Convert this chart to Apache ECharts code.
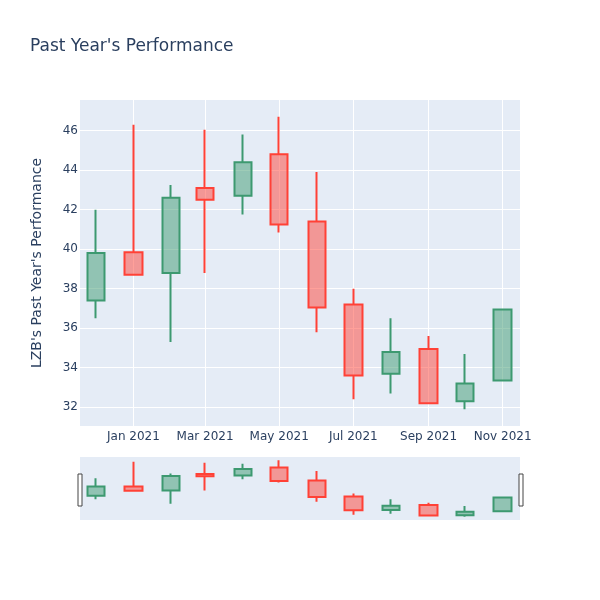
<!DOCTYPE html>
<html>
<head>
<meta charset="utf-8">
<script src="https://cdn.jsdelivr.net/npm/echarts@6/dist/echarts.min.js"></script>
<style>html,body{margin:0;padding:0;background:#fff}#c{width:600px;height:600px}</style>
</head>
<body>
<div id="c"></div>
<script>
// ---- data ----
var months = ['2020-12-01','2021-01-01','2021-02-01','2021-03-01','2021-04-01','2021-05-01','2021-06-01','2021-07-01','2021-08-01','2021-09-01','2021-10-01','2021-11-01'];
var openVals  = [37.4, 39.85, 38.8, 43.1, 42.7, 44.8, 41.4, 37.2, 33.7, 34.95, 32.3, 33.35];
var closeVals = [39.8, 38.7, 42.6, 42.5, 44.4, 41.25, 37.05, 33.6, 34.8, 32.2, 33.2, 36.95];
var lowVals   = [36.5, 38.7, 35.3, 38.8, 41.75, 40.85, 35.8, 32.4, 32.7, 32.2, 31.9, 33.35];
var highVals  = [42.0, 46.3, 43.25, 46.05, 45.8, 46.7, 43.9, 38.0, 36.5, 35.6, 34.7, 37.0];
var xTickDates  = ['2021-01-01','2021-03-01','2021-05-01','2021-07-01','2021-09-01','2021-11-01'];
var xTickLabels = ['Jan 2021','Mar 2021','May 2021','Jul 2021','Sep 2021','Nov 2021'];
var xRange = ['2020-11-18T00:00:00Z','2021-11-15T06:00:00Z'];
var yRange = [31.05, 47.55];

function t(s){ return new Date(s.length === 10 ? s + 'T00:00:00Z' : s).getTime(); }
var candleData = months.map(function(m,i){ return [t(m), openVals[i], closeVals[i], lowVals[i], highVals[i]]; });
var tickLines = xTickDates.map(function(d,i){ return {xAxis: t(d), name: xTickLabels[i]}; });

var font = 'DejaVu Sans';
var txt = '#2a3f5f';
var upLine = '#3D9970', upFill = 'rgba(61,153,112,0.5)';
var dnLine = '#FF4136', dnFill = 'rgba(255,65,54,0.5)';

var chart = echarts.init(document.getElementById('c'), null, {renderer:'canvas'});
var candleStyle = {color: upFill, color0: dnFill, borderColor: upLine, borderColor0: dnLine, borderWidth: 2};

chart.setOption({
  animation: false,
  useUTC: true,
  backgroundColor: '#fff',
  textStyle: {fontFamily: font},
  title: {text: "Past Year's Performance", left: 30, top: 38, padding: 0, textStyle: {fontFamily: font, fontSize: 17, fontWeight: 'normal', color: txt}},
  grid: [
    {left: 80, top: 100, width: 440, height: 326, show: true, backgroundColor: '#e5ecf6', borderWidth: 0, containLabel: false},
    {left: 80, top: 457, width: 440, height: 63, show: true, backgroundColor: '#e5ecf6', borderWidth: 0, containLabel: false}
  ],
  xAxis: [
    {type: 'time', gridIndex: 0, min: t(xRange[0]), max: t(xRange[1]),
     axisLine: {show: false}, axisTick: {show: false}, axisLabel: {show: false}, splitLine: {show: false}},
    {type: 'time', gridIndex: 1, min: t(xRange[0]), max: t(xRange[1]), show: false, splitLine: {show: false}}
  ],
  yAxis: [
    {type: 'value', gridIndex: 0, min: yRange[0], max: yRange[1], minInterval: 2, maxInterval: 2, splitNumber: 8,
     name: "LZB's Past Year's Performance", nameLocation: 'middle', nameGap: 36,
     nameTextStyle: {color: txt, fontSize: 14, fontFamily: font},
     axisLine: {show: false}, axisTick: {show: false},
     axisLabel: {color: txt, fontSize: 12, fontFamily: font, margin: 2, showMinLabel: false, showMaxLabel: false},
     splitLine: {show: true, showMinLine: false, showMaxLine: false, lineStyle: {color: '#fff', width: 1}}},
    {type: 'value', gridIndex: 1, min: yRange[0], max: yRange[1], show: false, splitLine: {show: false}}
  ],
  series: [
    {type: 'line', xAxisIndex: 0, yAxisIndex: 0, data: [], z: 1, silent: true,
     markLine: {silent: true, symbol: 'none', animation: false, z: 1,
       lineStyle: {color: '#fff', width: 1, type: 'solid'},
       label: {show: true, position: 'start', distance: 5, color: txt, fontSize: 12, fontFamily: font, formatter: '{b}'},
       emphasis: {disabled: true},
       data: tickLines}},
    {type: 'candlestick', xAxisIndex: 0, yAxisIndex: 0, z: 10, data: candleData, encode: {x: 0, y: [1,2,3,4]}, barWidth: 18, itemStyle: candleStyle},
    {type: 'candlestick', xAxisIndex: 1, yAxisIndex: 1, z: 10, data: candleData, encode: {x: 0, y: [1,2,3,4]}, barWidth: 18, itemStyle: candleStyle}
  ],
  graphic: [
    {type: 'rect', left: 77.5, top: 473.5, shape: {width: 4, height: 32}, style: {fill: '#fff', stroke: '#444', lineWidth: 1}},
    {type: 'rect', left: 518.5, top: 473.5, shape: {width: 4, height: 32}, style: {fill: '#fff', stroke: '#444', lineWidth: 1}}
  ]
});
</script>
</body>
</html>
